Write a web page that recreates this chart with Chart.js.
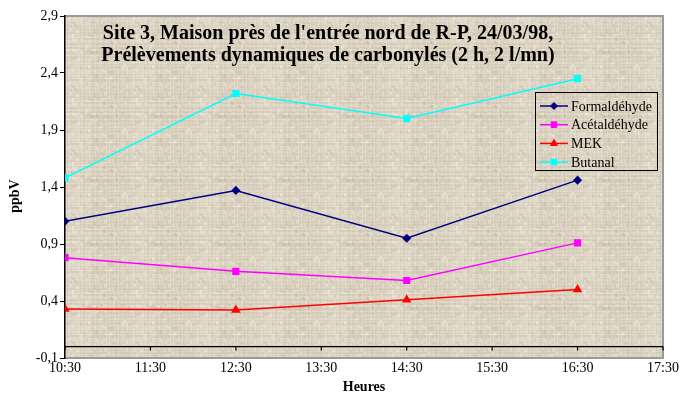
<!DOCTYPE html>
<html>
<head>
<meta charset="utf-8">
<script src="https://cdn.jsdelivr.net/npm/chart.js@4/dist/chart.umd.min.js"></script>
<style>
  html, body { margin: 0; padding: 0; background: #ffffff; }
  #wrap { width: 682px; height: 394px; }
</style>
</head>
<body>
<div id="wrap"><canvas id="c" width="682" height="394"></canvas></div>
<script>
// Sampling times and concentrations (ppbV)
const times = ['10:30', '12:30', '14:30', '16:30'];
const formaldehyde = [1.10, 1.37, 0.95, 1.46];
const acetaldehyde = [0.78, 0.66, 0.58, 0.91];
const mek = [0.33, 0.32, 0.41, 0.50];
const butanal = [1.48, 2.22, 2.00, 2.35];

// Axis tick labels
const hourTicks = ['10:30', '11:30', '12:30', '13:30', '14:30', '15:30', '16:30', '17:30'];
const yTicks = [-0.1, 0.4, 0.9, 1.4, 1.9, 2.4, 2.9];

const titleLines = [
  "Site 3, Maison près de l'entrée nord de R-P, 24/03/98,",
  "Prélèvements dynamiques de carbonylés (2 h, 2 l/mn)"
];

const toHours = t => { const [h, m] = t.split(':').map(Number); return h + m / 60; };
const pts = arr => times.map((t, i) => ({ x: toHours(t), y: arr[i] }));

// Woven beige texture used for the plot and legend backgrounds
function hash(n) { const s = Math.sin(n * 12.9898 + 78.233) * 43758.5453; return s - Math.floor(s); }
function makeWeave(ctx) {
  const c = document.createElement('canvas');
  const N = 64;
  c.width = N; c.height = N;
  const g = c.getContext('2d');
  g.fillStyle = '#dad1bf';
  g.fillRect(0, 0, N, N);
  for (let i = 0; i < N; i++) {
    const a = hash(i), b = hash(i + 101);
    g.fillStyle = a > 0.5 ? `rgba(240,235,224,${0.15 + 0.3 * (a - 0.5)})` : `rgba(185,172,150,${0.06 + 0.14 * a})`;
    g.fillRect(0, i, N, 1);
    g.fillStyle = b > 0.5 ? `rgba(240,235,224,${0.12 + 0.3 * (b - 0.5)})` : `rgba(185,172,150,${0.05 + 0.12 * b})`;
    g.fillRect(i, 0, 1, N);
  }
  for (let k = 0; k < 300; k++) {
    const x = Math.floor(hash(k * 3.1) * N), y = Math.floor(hash(k * 7.7 + 5) * N);
    g.fillStyle = hash(k + 999) > 0.5 ? 'rgba(245,241,232,0.35)' : 'rgba(175,160,135,0.18)';
    g.fillRect(x, y, hash(k + 55) > 0.5 ? 3 : 1, hash(k + 77) > 0.5 ? 1 : 3);
  }
  return ctx.createPattern(c, 'repeat');
}

const serif = '"Liberation Serif", "Times New Roman", serif';

const plotDecor = {
  id: 'plotDecor',
  beforeDraw(chart) {
    const { ctx, chartArea: a } = chart;
    ctx.save();
    ctx.fillStyle = makeWeave(ctx);
    ctx.fillRect(a.left, a.top, a.right - a.left, a.bottom - a.top);
    // grey frame on top, right, bottom
    ctx.strokeStyle = '#9a9a9a';
    ctx.lineWidth = 2;
    ctx.beginPath();
    ctx.moveTo(a.left, a.top);
    ctx.lineTo(a.right, a.top);
    ctx.lineTo(a.right, a.bottom);
    ctx.lineTo(a.left, a.bottom);
    ctx.stroke();
    ctx.restore();
  },
  beforeDatasetsDraw(chart) {
    const { ctx, chartArea: a, scales } = chart;
    ctx.save();
    // horizontal axis line crossing at zero, with hour ticks
    const y0 = scales.y.getPixelForValue(0);
    ctx.strokeStyle = '#000';
    ctx.lineWidth = 1.2;
    ctx.beginPath();
    ctx.moveTo(a.left, y0);
    ctx.lineTo(a.right, y0);
    hourTicks.forEach(t => {
      const x = scales.x.getPixelForValue(toHours(t));
      ctx.moveTo(x, y0);
      ctx.lineTo(x, y0 + 4);
    });
    ctx.stroke();
    // title inside the plot
    ctx.fillStyle = '#000';
    ctx.font = 'bold 20px ' + serif;
    ctx.textAlign = 'center';
    ctx.textBaseline = 'middle';
    ctx.fillText(titleLines[0], 328, 34);
    ctx.fillText(titleLines[1], 328, 56);
    ctx.restore();
  },
  afterDraw(chart) {
    const { ctx } = chart;
    ctx.save();
    // legend box
    const L = 535, T = 92, W = 122, H = 78;
    ctx.fillStyle = makeWeave(ctx);
    ctx.fillRect(L, T, W, H);
    ctx.strokeStyle = '#000';
    ctx.lineWidth = 1;
    ctx.strokeRect(L + 0.5, T + 0.5, W, H);
    ctx.font = '14px ' + serif;
    ctx.textAlign = 'left';
    ctx.textBaseline = 'middle';
    chart.data.datasets.forEach((ds, i) => {
      const y = T + 14 + i * 18.7;
      ctx.strokeStyle = ds.borderColor;
      ctx.fillStyle = ds.borderColor;
      ctx.lineWidth = 1.5;
      ctx.beginPath();
      ctx.moveTo(L + 5, y);
      ctx.lineTo(L + 33, y);
      ctx.stroke();
      ctx.lineWidth = 1;
      Chart.helpers.drawPoint(ctx, {
        pointStyle: ds.pointStyle, radius: ds.pointRadius, borderWidth: 1
      }, L + 19, y);
      ctx.fillStyle = '#000';
      ctx.fillText(ds.label, L + 36, y + 1);
    });
    // axis titles
    ctx.font = 'bold 14px ' + serif;
    ctx.textAlign = 'center';
    ctx.fillText('Heures', 364, 387);
    ctx.translate(15, 196);
    ctx.rotate(-Math.PI / 2);
    ctx.fillText('ppbV', 0, 0);
    ctx.restore();
  }
};

function series(label, data, color, style, r) {
  return {
    label, data: pts(data),
    borderColor: color, backgroundColor: color,
    pointBackgroundColor: color, pointBorderColor: color,
    pointStyle: style, pointRadius: r, pointHoverRadius: r,
    borderWidth: 1.5, tension: 0, fill: false
  };
}

new Chart(document.getElementById('c'), {
  type: 'line',
  data: {
    datasets: [
      series('Formaldéhyde', formaldehyde, '#000080', 'rectRot', 3.5),
      series('Acétaldéhyde', acetaldehyde, '#ff00ff', 'rect', 4),
      series('MEK', mek, '#ff0000', 'triangle', 4),
      series('Butanal', butanal, '#00ffff', 'rect', 4)
    ]
  },
  options: {
    responsive: false,
    animation: false,
    events: [],
    layout: { padding: { top: 16, right: 19, left: 0, bottom: 0 } },
    plugins: { legend: { display: false }, title: { display: false }, tooltip: { enabled: false } },
    scales: {
      x: {
        type: 'linear',
        min: toHours(hourTicks[0]),
        max: toHours(hourTicks[hourTicks.length - 1]),
        afterBuildTicks: s => { s.ticks = hourTicks.map(t => ({ value: toHours(t) })); },
        afterFit: s => { s.height = 36; },
        grid: { display: false, drawTicks: false },
        border: { display: false },
        ticks: {
          autoSkip: false, maxRotation: 0, padding: 2,
          color: '#000', font: { family: serif, size: 14 },
          callback: (v, i) => hourTicks[i]
        }
      },
      y: {
        min: yTicks[0],
        max: yTicks[yTicks.length - 1],
        afterBuildTicks: s => { s.ticks = yTicks.map(v => ({ value: v })); },
        afterFit: s => { s.width = 65; },
        grid: { drawOnChartArea: false, drawTicks: true, tickLength: 5, color: '#000' },
        border: { display: true, color: '#000', width: 1.5 },
        ticks: {
          padding: 2, color: '#000', font: { family: serif, size: 14 },
          callback: v => v.toFixed(1).replace('.', ',')
        }
      }
    }
  },
  plugins: [plotDecor]
});
</script>
</body>
</html>
